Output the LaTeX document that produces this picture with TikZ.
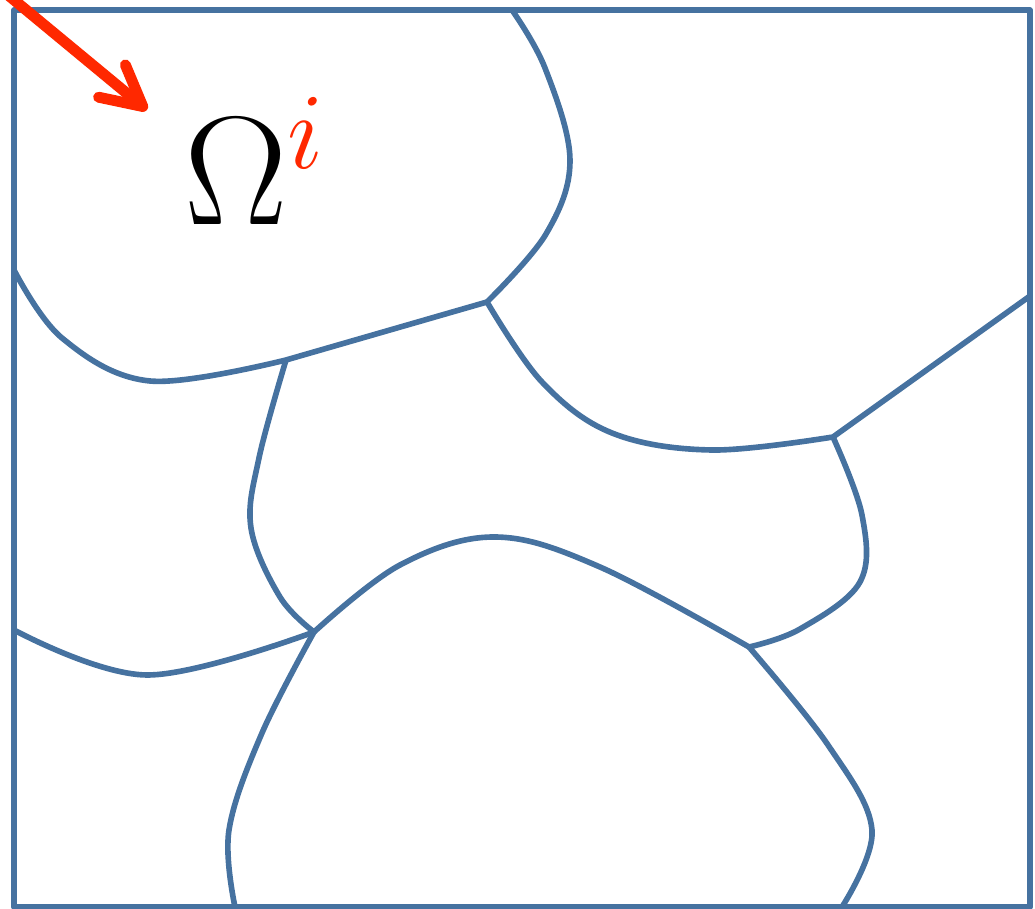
\RequirePackage{fix-cm}
\documentclass[tikz,border=0pt]{standalone}
\usepackage{tikz}
\usetikzlibrary{arrows.meta}
\definecolor{grainblue}{RGB}{70,114,160}
\definecolor{arrowred}{RGB}{255,40,0}

\begin{document}
\begin{tikzpicture}[x=0.01cm,y=-0.01cm,
  grain/.style={draw=grainblue,line width=1.6pt,line join=round},
  pointer/.style={draw=arrowred,line width=3.1pt,line cap=round,-{Straight Barb[length=4mm,width=4.2mm,round]}}]
\useasboundingbox (0,0) rectangle (1035,909);
% junctions and wall points
\coordinate (j1) at (487,302);
\coordinate (j2) at (833,437);
\coordinate (j3) at (286,360);
\coordinate (j4) at (314,632);
\coordinate (j5) at (749,647);
\coordinate (e1) at (14,270);
\coordinate (e2) at (512,10);
\coordinate (e3) at (1030,296);
\coordinate (e4) at (14,630);
\coordinate (e5) at (235,907);
\coordinate (e6) at (842,907);
% outer box
\draw[grain] (14,10) rectangle (1030,907);
% grain boundaries
\draw[grain] plot[smooth,tension=0.6] coordinates {(e1) (62,338) (150,381) (j3)} -- (j1);
\draw[grain] plot[smooth,tension=0.6] coordinates {(j1) (546,234) (570,160) (545,68) (e2)};
\draw[grain] plot[smooth,tension=0.6] coordinates {(j1) (542,382) (612,433) (712,450) (j2)} -- (e3);
\draw[grain] plot[smooth,tension=0.6] coordinates {(j3) (259,458) (251,528) (280,597) (j4)};
\draw[grain] plot[smooth,tension=0.6] coordinates {(e4) (147,675) (j4)};
\draw[grain] plot[smooth,tension=0.6] coordinates {(j4) (400,565) (495,537) (600,567) (j5)};
\draw[grain] plot[smooth,tension=0.6] coordinates {(j2) (862,515) (860,582) (800,629) (j5)};
\draw[grain] plot[smooth,tension=0.6] coordinates {(j4) (262,733) (229,830) (e5)};
\draw[grain] plot[smooth,tension=0.6] coordinates {(j5) (828,745) (872,830) (e6)};
% label and pointer
\node[anchor=base west,inner sep=0pt,font=\fontsize{44}{50}\selectfont] (omega) at (184,225) {$\Omega^{\color{arrowred}i}$};
\coordinate (astart) at (2,-10);
\coordinate (atip) at (147,110);
\draw[pointer] (astart) -- (atip);
\end{tikzpicture}
\end{document}
